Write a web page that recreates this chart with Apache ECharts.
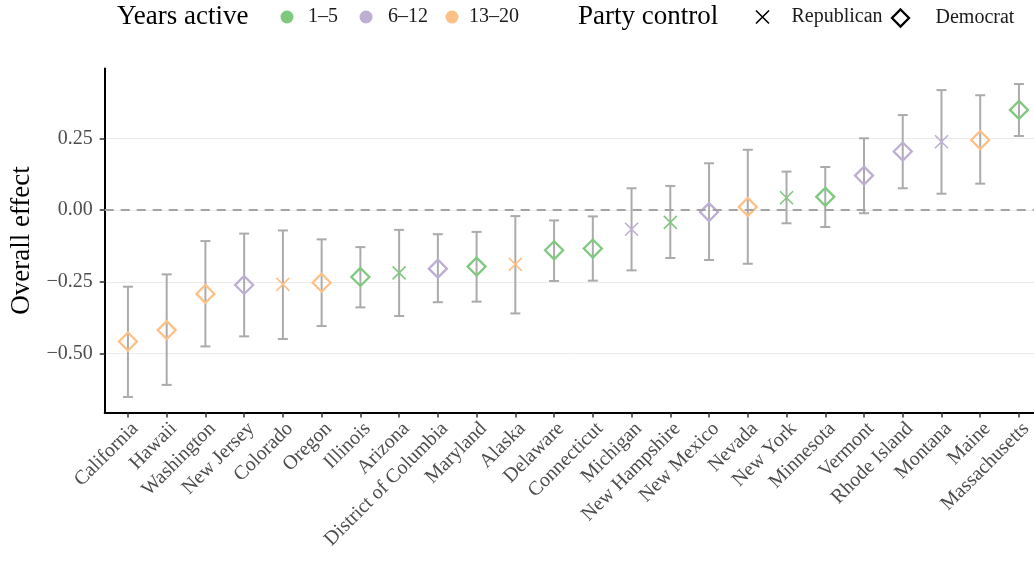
<!DOCTYPE html>
<html>
<head>
<meta charset="utf-8">
<script src="https://cdn.jsdelivr.net/npm/echarts@6/dist/echarts.min.js"></script>
<style>
  html, body { margin: 0; padding: 0; background: #ffffff; }
  #chart { width: 1034px; height: 564px; }
</style>
</head>
<body>
<div id="chart"></div>
<script>
// States ordered by estimated overall effect
const states = [
  'California', 'Hawaii', 'Washington', 'New Jersey', 'Colorado', 'Oregon',
  'Illinois', 'Arizona', 'District of Columbia', 'Maryland', 'Alaska', 'Delaware',
  'Connecticut', 'Michigan', 'New Hampshire', 'New Mexico', 'Nevada', 'New York',
  'Minnesota', 'Vermont', 'Rhode Island', 'Montana', 'Maine', 'Massachusetts'
];
const effect = [
  -0.458, -0.418, -0.292, -0.261, -0.259, -0.253,
  -0.233, -0.219, -0.204, -0.197, -0.189, -0.140,
  -0.134, -0.067, -0.043, -0.007, 0.011, 0.043,
  0.046, 0.120, 0.204, 0.238, 0.244, 0.349
];
const lower = [
  -0.651, -0.609, -0.475, -0.440, -0.449, -0.404,
  -0.339, -0.369, -0.321, -0.319, -0.360, -0.247,
  -0.246, -0.210, -0.167, -0.174, -0.187, -0.046,
  -0.059, -0.011, 0.076, 0.057, 0.092, 0.258
];
const upper = [
  -0.267, -0.224, -0.108, -0.082, -0.071, -0.102,
  -0.129, -0.069, -0.084, -0.076, -0.021, -0.036,
  -0.022, 0.076, 0.084, 0.163, 0.210, 0.134,
  0.150, 0.250, 0.331, 0.418, 0.400, 0.439
];
const yearsActive = [
  '13–20', '13–20', '13–20', '6–12', '13–20', '13–20',
  '1–5', '1–5', '6–12', '1–5', '13–20', '1–5',
  '1–5', '6–12', '1–5', '6–12', '13–20', '1–5',
  '1–5', '6–12', '6–12', '6–12', '13–20', '1–5'
];
const party = [
  'Democrat', 'Democrat', 'Democrat', 'Democrat', 'Republican', 'Democrat',
  'Democrat', 'Republican', 'Democrat', 'Democrat', 'Republican', 'Democrat',
  'Democrat', 'Republican', 'Republican', 'Democrat', 'Democrat', 'Republican',
  'Democrat', 'Democrat', 'Democrat', 'Republican', 'Democrat', 'Democrat'
];
const yearGroups = ['1–5', '6–12', '13–20'];
const yearColors = ['#7fc97f', '#beaed4', '#fdc086'];
const partyNames = ['Republican', 'Democrat'];
const yTicks = [-0.5, -0.25, 0, 0.25];

const SERIF = '"Liberation Serif", "DejaVu Serif", serif';
const DIAMOND = 'path://M0,-10L10,0L0,10L-10,0Z';
const CROSS = 'path://M-10,-10L10,10M10,-10L-10,10';

const xIndex = states.map((_, i) => i + 1);

function pointFor(i) {
  const rep = party[i] === 'Republican';
  return {
    value: [i + 1, effect[i]],
    symbol: rep ? CROSS : DIAMOND,
    symbolSize: rep ? 13 : 18,
    itemStyle: { borderWidth: rep ? 1.6 : 2.3 }
  };
}

const groupSeries = yearGroups.map((g, k) => ({
  name: g,
  type: 'scatter',
  z: 4,
  itemStyle: { color: 'rgba(0,0,0,0)', borderColor: yearColors[k], opacity: 1 },
  data: xIndex.map(x => x - 1).filter(i => yearsActive[i] === g).map(pointFor)
}));

const partySeries = partyNames.map(p => ({ name: p, type: 'scatter', data: [] }));

const errorBars = {
  type: 'custom',
  name: 'interval',
  z: 2,
  renderItem: (params, api) => {
    const x = api.value(0);
    const lo = api.coord([x, api.value(1)]);
    const hi = api.coord([x, api.value(2)]);
    const hw = 5;
    const st = { stroke: '#ababab', lineWidth: 2 };
    return {
      type: 'group',
      children: [
        { type: 'line', shape: { x1: lo[0], y1: lo[1], x2: hi[0], y2: hi[1] }, style: st },
        { type: 'line', shape: { x1: lo[0] - hw, y1: lo[1], x2: lo[0] + hw, y2: lo[1] }, style: st },
        { type: 'line', shape: { x1: hi[0] - hw, y1: hi[1], x2: hi[0] + hw, y2: hi[1] }, style: st }
      ]
    };
  },
  encode: { x: 0, y: [1, 2] },
  data: states.map((_, i) => [i + 1, lower[i], upper[i]]),
  markLine: {
    silent: true,
    symbol: 'none',
    label: { show: false },
    lineStyle: { type: [9, 7], color: '#a3a3a3', width: 2 },
    data: [{ yAxis: 0 }]
  }
};

// Legend entries: icon centre and text start along the top row
const legendItems = [
  { name: '1–5', center: 287, textLeft: 308, icon: 'circle', size: 13,
    style: { color: yearColors[0], borderWidth: 0, opacity: 1 } },
  { name: '6–12', center: 366, textLeft: 388, icon: 'circle', size: 13,
    style: { color: yearColors[1], borderWidth: 0, opacity: 1 } },
  { name: '13–20', center: 452, textLeft: 469, icon: 'circle', size: 13,
    style: { color: yearColors[2], borderWidth: 0, opacity: 1 } },
  { name: 'Republican', center: 760, textLeft: 789, icon: CROSS, size: 13,
    style: { color: 'none', borderColor: '#000000', borderWidth: 1.6, opacity: 1 } },
  { name: 'Democrat', center: 898, textLeft: 933, icon: DIAMOND, size: 17,
    style: { color: 'none', borderColor: '#000000', borderWidth: 2.3, opacity: 1 } }
];

const legends = legendItems.map(it => {
  const gap = it.textLeft - it.center - it.size / 2 - 5;
  const h = Math.max(it.size, 20);
  return {
    left: it.center - it.size / 2,
    top: 17 - h / 2,
    padding: 0,
    itemWidth: it.size,
    itemHeight: it.size,
    selectedMode: false,
    data: [{ name: it.name, icon: it.icon, itemStyle: it.style }],
    textStyle: { fontFamily: SERIF, fontSize: 20, color: '#1a1a1a', padding: [0, 0, 0, gap] }
  };
});

const chart = echarts.init(document.getElementById('chart'), null, { renderer: 'canvas' });
chart.setOption({
  animation: false,
  backgroundColor: '#ffffff',
  legend: legends,
  graphic: [
    { type: 'text', x: 117, y: 17,
      style: { text: 'Years active', font: '27px ' + SERIF, fill: '#000', verticalAlign: 'middle' } },
    { type: 'text', x: 578, y: 17,
      style: { text: 'Party control', font: '27px ' + SERIF, fill: '#000', verticalAlign: 'middle' } }
  ],
  grid: {
    left: 104.7, top: 68.4, width: 937.5, height: 344.2,
    containLabel: false, outerBoundsMode: 'none'
  },
  xAxis: {
    type: 'value',
    min: 0.4, max: 24.6,
    axisLine: { show: true, onZero: false, lineStyle: { color: '#000000', width: 2 } },
    axisTick: { show: true, length: 5, customValues: xIndex, lineStyle: { color: '#333333', width: 1.5 } },
    axisLabel: {
      customValues: xIndex,
      formatter: v => states[Math.round(v) - 1],
      rotate: 45,
      align: 'right',
      verticalAlign: 'top',
      margin: 6,
      fontFamily: SERIF, fontSize: 20, color: '#4d4d4d'
    },
    splitLine: { show: false }
  },
  yAxis: {
    type: 'value',
    min: -0.7055, max: 0.4935,
    name: 'Overall effect',
    nameLocation: 'middle',
    nameRotate: 90,
    nameGap: 68.5,
    nameTextStyle: { fontFamily: SERIF, fontSize: 27, color: '#000000' },
    axisLine: { show: true, onZero: false, lineStyle: { color: '#000000', width: 2 } },
    axisTick: { show: true, length: 5, customValues: yTicks, lineStyle: { color: '#333333', width: 1.5 } },
    axisLabel: {
      customValues: yTicks,
      formatter: v => (v < 0 ? '−' : '') + Math.abs(v).toFixed(2),
      margin: 12,
      fontFamily: SERIF, fontSize: 20, color: '#4d4d4d'
    },
    splitLine: { show: true, lineStyle: { color: '#ebebeb', width: 1 } }
  },
  series: [errorBars].concat(groupSeries, partySeries)
});
</script>
</body>
</html>
